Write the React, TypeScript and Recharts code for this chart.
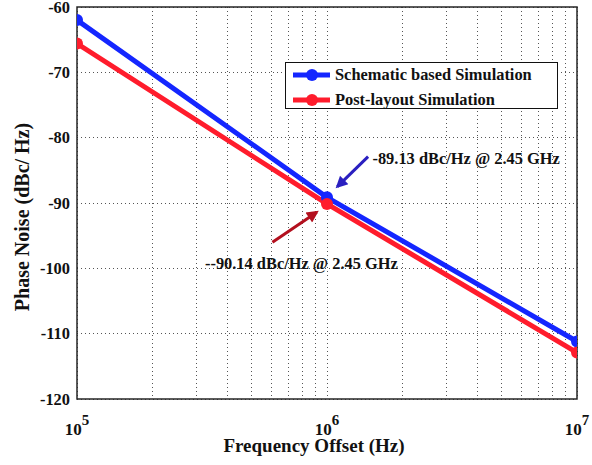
import React from 'react';
import {
  LineChart,
  Line,
  XAxis,
  YAxis,
  CartesianGrid,
  ReferenceArea,
  ReferenceLine,
  ReferenceDot,
} from 'recharts';

// offset frequencies (Hz) and phase noise (dBc/Hz)
const freqs = [1e5, 1e6, 1e7];
const schematicPN = [-62.0, -89.13, -111.2];
const postLayoutPN = [-65.6, -90.14, -112.9];

// log-decade grid positions
const xTicks = [
  1e5, 2e5, 3e5, 4e5, 5e5, 6e5, 7e5, 8e5, 9e5,
  1e6, 2e6, 3e6, 4e6, 5e6, 6e6, 7e6, 8e6, 9e6, 1e7,
];
const yTicks = [-120, -110, -100, -90, -80, -70, -60];

const seriesNames = ['Schematic based Simulation', 'Post-layout Simulation'];

const data = freqs.map((f, i) => ({
  freq: f,
  schematic: schematicPN[i],
  postLayout: postLayoutPN[i],
}));

const FONT = '"Liberation Serif", "Times New Roman", serif';
const BLUE = '#1426ff';
const RED = '#ff1c2c';
const GRID = '#555';
const FRAME = '#262626';

const isDecade = (v: number) => {
  const l = Math.log10(v);
  return Math.abs(l - Math.round(l)) < 1e-9;
};

const DecadeTick = ({ x, y, payload }: any) => {
  if (!isDecade(payload.value)) return null;
  const exp = Math.round(Math.log10(payload.value));
  return (
    <text x={x} y={y + 28} textAnchor="middle" fontFamily={FONT} fontWeight="bold" fontSize={17} fill="#111">
      <tspan>10</tspan>
      <tspan dy={-10} fontSize={15}>{exp}</tspan>
    </text>
  );
};

// legend drawn as an overlay so it doesn't eat into the plot area
const LegendBox = () => (
  <div
    style={{
      position: 'absolute',
      left: 285,
      top: 62,
      width: 265,
      height: 45,
      border: '1.5px solid #111',
      background: '#fff',
      padding: '0 0 0 6px',
      fontFamily: FONT,
      fontWeight: 'bold',
      fontSize: 16.4,
      color: '#111',
    }}
  >
    {[
      { name: seriesNames[0], color: BLUE },
      { name: seriesNames[1], color: RED },
    ].map((item, i) => (
      <div key={item.name} style={{ display: 'flex', alignItems: 'center', height: 25, marginTop: i === 0 ? -1 : 0 }}>
        <svg width={40} height={14} style={{ marginRight: 3 }}>
          <line x1={1} y1={7} x2={38} y2={7} stroke={item.color} strokeWidth={5} />
          <circle cx={20} cy={7} r={6} fill={item.color} />
        </svg>
        <span>{item.name}</span>
      </div>
    ))}
  </div>
);

const AnnotationText = (text: string) => ({ viewBox }: any) => (
  <text
    x={viewBox.x + viewBox.width / 2}
    y={viewBox.y + viewBox.height / 2}
    dy={6}
    fontFamily={FONT}
    fontWeight="bold"
    fontSize={16.4}
    fill="#111"
  >
    {text}
  </text>
);

export default function App() {
  return (
    <div style={{ position: 'absolute', left: 0, top: 0, width: 592, height: 465, background: '#fff' }}>
      <LineChart
        width={592}
        height={465}
        data={data}
        margin={{ top: 7, right: 15, left: 0, bottom: 0 }}
      >
        <defs>
          <marker id="arrowBlue" viewBox="0 0 10 10" refX="8" refY="5" markerWidth="14" markerHeight="12" markerUnits="userSpaceOnUse" orient="auto">
            <path d="M0,0 L10,5 L0,10 z" fill="#2a1fc0" />
          </marker>
          <marker id="arrowRed" viewBox="0 0 10 10" refX="8" refY="5" markerWidth="14" markerHeight="12" markerUnits="userSpaceOnUse" orient="auto">
            <path d="M0,0 L10,5 L0,10 z" fill="#b3101e" />
          </marker>
        </defs>
        <CartesianGrid
          stroke={GRID}
          strokeDasharray="1 3"
          strokeWidth={1}
          shapeRendering="crispEdges"
        />
        <XAxis
          dataKey="freq"
          type="number"
          scale="log"
          domain={[1e5, 1e7]}
          ticks={xTicks}
          interval={0}
          allowDataOverflow
          height={66}
          tickLine={false}
          axisLine={false}
          tick={<DecadeTick />}
          label={({ viewBox }: any) => (
            <text
              x={viewBox.x + viewBox.width / 2 - 13}
              y={452}
              textAnchor="middle"
              fontFamily={FONT}
              fontWeight="bold"
              fontSize={19}
              fill="#111"
            >
              Frequency Offset (Hz)
            </text>
          )}
        />
        <YAxis
          type="number"
          domain={[-120, -60]}
          ticks={yTicks}
          interval={0}
          width={77}
          tickLine={false}
          axisLine={false}
          tickSize={5}
          tick={{ fontFamily: FONT, fontWeight: 'bold', fontSize: 16.4, fill: '#111' }}
          label={() => (
            <text
              x={29}
              y={217}
              transform="rotate(-90 29 217)"
              textAnchor="middle"
              fontFamily={FONT}
              fontWeight="bold"
              fontSize={20}
              fill="#111"
            >
              Phase Noise (dBc/ Hz)
            </text>
          )}
        />
        {/* plot frame */}
        <ReferenceArea
          x1={1e5}
          x2={1e7}
          y1={-120}
          y2={-60}
          fill="none"
          fillOpacity={0}
          stroke={FRAME}
          strokeWidth={1.5}
        />
        <Line
          dataKey="schematic"
          name={seriesNames[0]}
          stroke={BLUE}
          strokeWidth={5}
          dot={{ r: 6, fill: BLUE, stroke: BLUE, strokeWidth: 0 }}
          isAnimationActive={false}
        />
        <Line
          dataKey="postLayout"
          name={seriesNames[1]}
          stroke={RED}
          strokeWidth={5}
          dot={{ r: 6, fill: RED, stroke: RED, strokeWidth: 0 }}
          isAnimationActive={false}
        />
        <ReferenceLine
          segment={[{ x: 1.46e6, y: -82.9 }, { x: 1.1e6, y: -87.5 }]}
          stroke="#2a1fc0"
          strokeWidth={3}
          markerEnd="url(#arrowBlue)"
        />
        <ReferenceLine
          segment={[{ x: 6.05e5, y: -96.0 }, { x: 9.1e5, y: -91.4 }]}
          stroke="#b3101e"
          strokeWidth={3}
          markerEnd="url(#arrowRed)"
        />
        <ReferenceDot
          x={1.52e6}
          y={-83.1}
          r={0}
          fill="none"
          stroke="none"
          label={AnnotationText('-89.13 dBc/Hz @ 2.45 GHz')}
        />
        <ReferenceDot
          x={3.25e5}
          y={-99.2}
          r={0}
          fill="none"
          stroke="none"
          label={AnnotationText('--90.14 dBc/Hz @ 2.45 GHz')}
        />
      </LineChart>
      <LegendBox />
    </div>
  );
}
